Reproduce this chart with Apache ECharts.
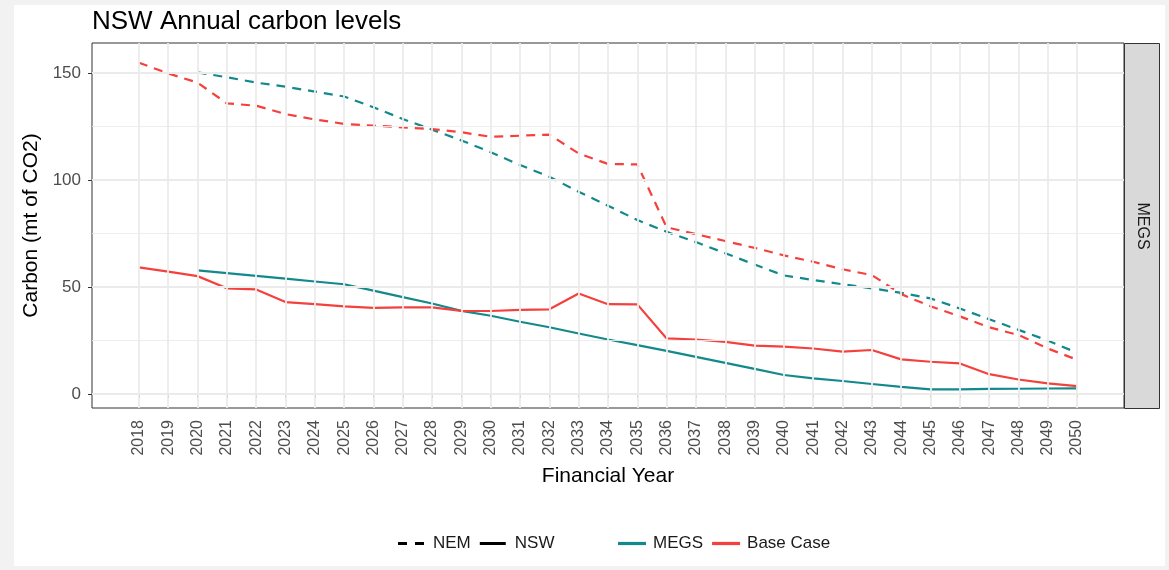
<!DOCTYPE html>
<html><head><meta charset="utf-8">
<script src="https://cdn.jsdelivr.net/npm/echarts@6/dist/echarts.min.js"></script>
<style>html,body{margin:0;padding:0;background:#f2f2f2;} #c{width:1169px;height:570px;}</style>
</head><body><div id="c"></div>
<script>
const years = [2018,2019,2020,2021,2022,2023,2024,2025,2026,2027,2028,2029,2030,2031,2032,2033,2034,2035,2036,2037,2038,2039,2040,2041,2042,2043,2044,2045,2046,2047,2048,2049,2050];
const yTicks = [0, 50, 100, 150];
const yMinor = [25, 75, 125];
const nemMEGS = [null,null,150.3,148,145.5,143.6,141.3,139,134,128.5,123.5,118.5,113,107,101.5,94.5,88,81.3,75.8,71,65.8,60.5,55.4,53.3,51.3,49.4,47.3,44.7,40,35,30,25,19.3];
const nemBase = [154.8,149.8,145.5,135.8,134.7,130.8,128.3,126.2,125.4,124.6,123.8,122.3,120.2,120.7,121.2,112.4,107.5,107.3,77.9,74.7,71.5,68.3,64.8,61.8,58.3,55.6,46.7,41,36.3,31.2,27.6,21.3,16];
const nswMEGS = [null,null,57.8,56.5,55.2,53.9,52.6,51.3,48.3,45.3,42.3,38.9,36.6,33.8,31.2,28.3,25.5,22.9,20.2,17.4,14.6,11.8,8.9,7.3,6.1,4.7,3.4,2.2,2.2,2.4,2.5,2.6,2.7];
const nswBase = [59.2,57.2,55.1,49.4,48.9,43,42,41,40.3,40.5,40.5,38.9,38.8,39.3,39.6,47,42,41.9,26,25.5,24.4,22.6,22.2,21.3,19.8,20.6,16.2,15.1,14.3,9.3,6.8,5,3.7];

const TEAL = '#14898c', RED = '#f4413d';
const FONT = '"Liberation Sans", Arial, sans-serif';
const pair = arr => years.map((y, i) => [y, arr[i]]);
const DASH = [9, 7];

const chart = echarts.init(document.getElementById('c'), null, {renderer: 'canvas'});
const gridSeries = (items, width) => ({
  type: 'line', data: [], z: 1, silent: true,
  markLine: {
    silent: true, symbol: ['none', 'none'], animation: false,
    label: {show: false},
    lineStyle: {color: '#ebebeb', width: width, type: 'solid'},
    emphasis: {disabled: true},
    data: items
  }
});
const dataLine = (name, arr, color, dashed) => ({
  name: name, type: 'line', data: pair(arr), z: 3,
  symbol: 'none', color: color, connectNulls: false,
  lineStyle: {color: color, width: 2.2, type: dashed ? DASH : 'solid'},
  emphasis: {disabled: true}
});
const legendDummy = (name, color) => ({name: name, type: 'line', data: [], color: color, symbol: 'none'});

chart.setOption({
  animation: false,
  backgroundColor: '#f2f2f2',
  textStyle: {fontFamily: FONT},
  title: {
    text: 'NSW Annual carbon levels', left: 87, top: 4,
    textStyle: {fontSize: 26, fontWeight: 'normal', color: '#000', fontFamily: FONT}
  },
  grid: {left: 92, right: 45, top: 43, bottom: 162, show: true, borderColor: '#333', borderWidth: 1, backgroundColor: 'transparent'},
  xAxis: {
    type: 'value', min: 2016.4, max: 2051.6,
    axisLine: {show: false}, splitLine: {show: false},
    axisTick: {show: true, customValues: years, length: 4, lineStyle: {color: '#333', width: 1}},
    axisLabel: {customValues: years, rotate: 90, margin: 12, fontSize: 16, color: '#4d4d4d', fontFamily: FONT, formatter: v => String(v)},
    name: 'Financial Year', nameLocation: 'middle', nameGap: 58,
    nameTextStyle: {fontSize: 21, color: '#000', fontFamily: FONT}
  },
  yAxis: {
    type: 'value', min: -6.5, max: 164,
    axisLine: {show: false}, splitLine: {show: false},
    axisTick: {show: true, customValues: yTicks, length: 4, lineStyle: {color: '#333', width: 1}},
    axisLabel: {customValues: yTicks, margin: 11, fontSize: 17, color: '#4d4d4d', fontFamily: FONT},
    name: 'Carbon (mt of CO2)', nameLocation: 'middle', nameGap: 50,
    nameTextStyle: {fontSize: 21, color: '#000', fontFamily: FONT}
  },
  legend: [
    {
      left: 393, top: 530, selectedMode: false, itemWidth: 26, itemHeight: 3.5, itemGap: 9,
      textStyle: {fontSize: 17, color: '#1a1a1a', fontFamily: FONT, padding: [0, 0, 0, 4]},
      data: [
        {name: 'NEM', icon: 'path://M0 0H9V3H0Z M17 0H26V3H17Z'},
        {name: 'NSW', icon: 'path://M0 0H26V3H0Z'}
      ]
    },
    {
      left: 613, top: 530, selectedMode: false, itemWidth: 28, itemHeight: 3.5, itemGap: 9,
      textStyle: {fontSize: 17, color: '#1a1a1a', fontFamily: FONT, padding: [0, 0, 0, 2]},
      data: [
        {name: 'MEGS', icon: 'path://M0 0H26V3H0Z'},
        {name: 'Base Case', icon: 'path://M0 0H26V3H0Z'}
      ]
    }
  ],
  graphic: [
    {type: 'rect', z: -10, silent: true, shape: {x: 14, y: 5, width: 1151, height: 561}, style: {fill: '#ffffff'}},
    {type: 'rect', silent: true, shape: {x: 1124.5, y: 43.5, width: 35, height: 365}, style: {fill: '#d9d9d9', stroke: '#333', lineWidth: 1}},
    {type: 'text', silent: true, x: 1142, y: 226, rotation: -Math.PI / 2,
     style: {text: 'MEGS', font: '16px ' + FONT, fill: '#1a1a1a', align: 'center', verticalAlign: 'middle'}}
  ],
  series: [
    gridSeries(yMinor.map(v => ({yAxis: v})), 0.9),
    gridSeries(yTicks.map(v => ({yAxis: v})).concat(years.map(y => ({xAxis: y}))), 1.8),
    dataLine('NEM MEGS', nemMEGS, TEAL, true),
    dataLine('NEM Base Case', nemBase, RED, true),
    dataLine('NSW MEGS', nswMEGS, TEAL, false),
    dataLine('NSW Base Case', nswBase, RED, false),
    legendDummy('NEM', '#000'),
    legendDummy('NSW', '#000'),
    legendDummy('MEGS', TEAL),
    legendDummy('Base Case', RED)
  ]
});
</script></body></html>
